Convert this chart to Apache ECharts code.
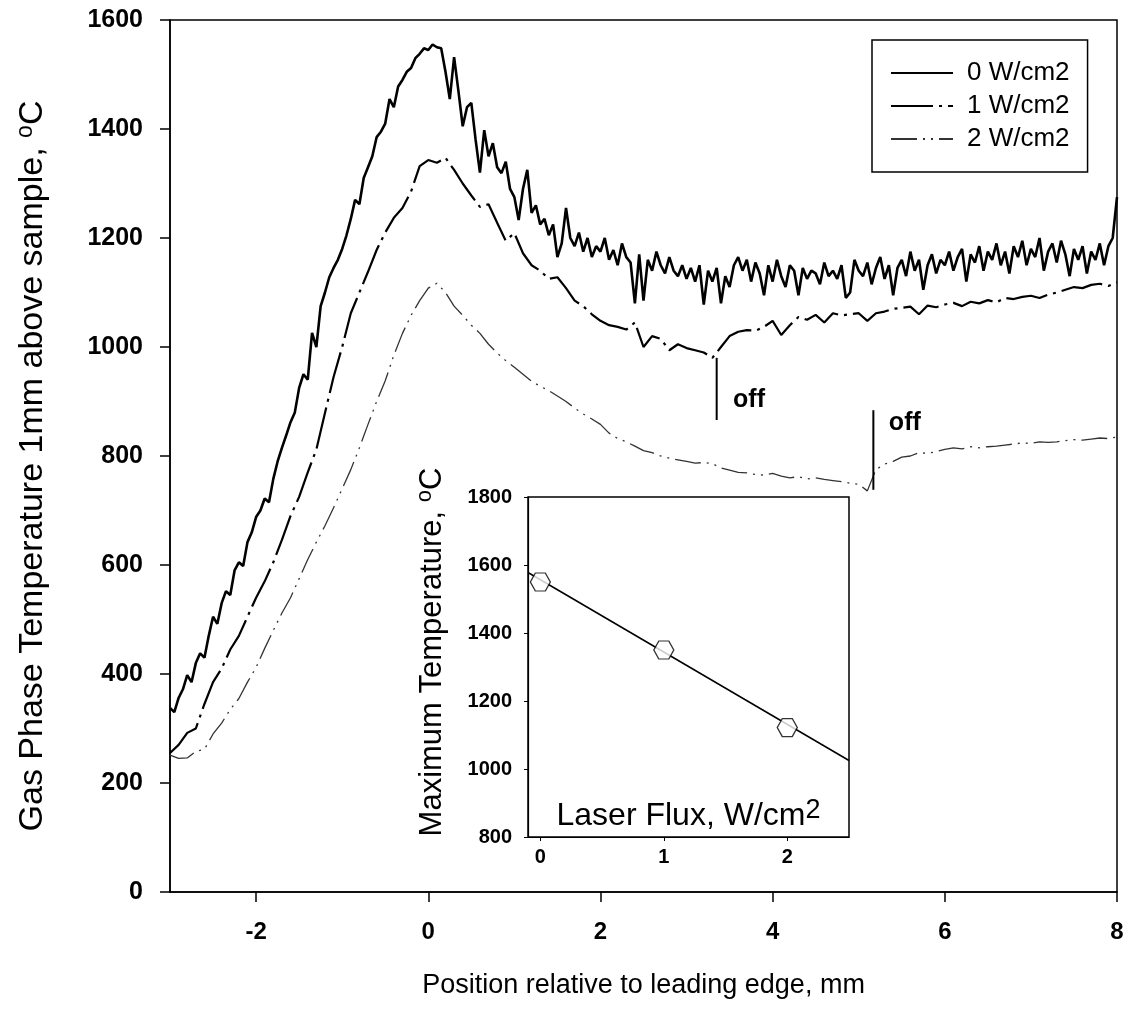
<!DOCTYPE html>
<html>
<head>
<meta charset="utf-8">
<script src="https://cdn.jsdelivr.net/npm/echarts@6/dist/echarts.min.js"></script>
<style>
html,body{margin:0;padding:0;background:#fff;}
#chart{width:1128px;height:1010px;}
</style>
</head>
<body>
<div id="chart"></div>
<script>
// ---- Data ----
const seriesNames = ['0 W/cm2', '1 W/cm2', '2 W/cm2'];
const xStart = -3;
const xStep0 = 0.05;   // sampling of 0 W/cm2 trace
const xStep12 = 0.1;   // sampling of 1 and 2 W/cm2 traces

const temp0 = [
  338,330,356,372,398,385,420,438,430,470,505,492,530,552,545,590,605,598,642,660,
  688,700,722,715,758,790,815,838,862,880,925,950,940,1026,1000,1075,1100,1128,1145,1160,
  1180,1205,1235,1270,1262,1310,1330,1350,1385,1395,1410,1455,1440,1478,1490,1505,1512,1530,1538,1548,
  1545,1555,1550,1548,1505,1455,1532,1470,1405,1440,1448,1380,1320,1398,1350,1374,1330,1319,1340,1290,
  1275,1233,1290,1325,1246,1260,1225,1235,1205,1225,1165,1190,1255,1200,1185,1210,1175,1200,1165,1185,
  1175,1200,1160,1178,1150,1190,1165,1155,1080,1170,1085,1160,1140,1175,1150,1135,1165,1140,1130,1150,
  1125,1145,1120,1150,1078,1140,1120,1145,1080,1130,1110,1150,1165,1140,1160,1120,1155,1135,1095,1150,
  1120,1160,1130,1110,1150,1140,1095,1145,1125,1140,1135,1115,1155,1130,1140,1125,1150,1090,1100,1160,
  1140,1130,1155,1115,1145,1165,1125,1150,1095,1145,1160,1130,1175,1140,1160,1105,1150,1170,1135,1160,
  1150,1175,1140,1165,1180,1120,1170,1155,1185,1140,1175,1160,1190,1150,1175,1135,1185,1165,1195,1150,
  1180,1165,1200,1140,1175,1190,1155,1195,1170,1130,1180,1160,1185,1135,1175,1160,1190,1150,1185,1200,
  1275
];
const temp1 = [
  255,270,292,300,345,385,410,445,470,505,
  540,570,605,646,690,725,770,812,879,945,
  1000,1062,1100,1138,1178,1210,1237,1255,1285,1332,
  1343,1338,1347,1325,1300,1278,1257,1262,1228,1195,
  1209,1172,1150,1140,1125,1128,1108,1085,1075,1060,
  1048,1040,1037,1032,1045,1000,1020,1015,994,1005,
  998,994,990,980,1000,1020,1028,1031,1030,1037,
  1048,1022,1040,1055,1050,1059,1045,1062,1058,1060,
  1062,1048,1062,1065,1070,1072,1074,1060,1076,1073,
  1078,1081,1075,1083,1080,1086,1082,1090,1088,1092,
  1094,1090,1096,1100,1105,1110,1108,1114,1116,1112,
  1119
];
const temp2 = [
  251,245,246,258,262,290,310,335,355,385,
  412,447,480,512,540,575,610,642,672,705,
  740,775,815,858,900,938,985,1025,1058,1085,
  1108,1117,1100,1075,1058,1040,1025,1005,989,975,
  963,950,937,928,920,910,900,888,877,868,
  858,842,832,826,818,810,806,800,796,793,
  790,787,788,786,778,774,770,769,766,765,
  768,763,760,762,758,760,757,755,753,750,
  748,736,775,785,790,798,800,806,805,808,
  812,815,813,817,815,817,818,820,822,824,
  823,826,825,826,828,830,829,831,833,832,
  835
];

// "off" markers: x position, top and bottom of tick (deg C), label anchor
const offX = [3.35, 5.17];
const offTop = [980, 884];
const offBottom = [866, 738];
const offLabelAt = [[3.54, 903], [5.35, 860]];
const offText = 'off';

// inset: max temperature vs laser flux
const fluxValues = [0, 1, 2];
const maxTemp = [1550, 1350, 1122];
const fitX = [-0.1, 2.5];
const fitY = [1578, 1025];

const mainXTicks = [-2, 0, 2, 4, 6, 8];
const insetXTicks = [0, 1, 2];

// ---- Build ----
function pairs(vals, start, step) {
  return vals.map((v, i) => [+(start + i * step).toFixed(2), v]);
}
const FONT = 'Liberation Sans, Arial, sans-serif';
const hexagon = 'path://M-1,0 L-0.5,-0.866 L0.5,-0.866 L1,0 L0.5,0.866 L-0.5,0.866 Z';
const plain = v => String(v);

const offSeries = offX.map((x, i) => ({
  type: 'line', xAxisIndex: 0, yAxisIndex: 0, silent: true,
  symbol: 'none', data: [[x, offTop[i]], [x, offBottom[i]]],
  lineStyle: { color: '#000', width: 2 }, z: 5
}));

const chart = echarts.init(document.getElementById('chart'), null, { renderer: 'canvas' });

const option = {
  backgroundColor: '#fff',
  animation: false,
  textStyle: { fontFamily: FONT },
  grid: [
    { left: 170, right: 11, top: 20, bottom: 118, show: true, borderColor: '#000', borderWidth: 1.5, backgroundColor: 'transparent' },
    { left: 528, right: 279, top: 497, bottom: 173, show: true, borderColor: '#000', borderWidth: 1.5, backgroundColor: '#fff', z: 10 }
  ],
  legend: {
    data: seriesNames,
    orient: 'vertical',
    left: 872, top: 40,
    padding: [20, 18, 20, 18],
    itemGap: 7,
    itemWidth: 62, itemHeight: 14,
    borderColor: '#000', borderWidth: 1.5,
    backgroundColor: '#fff',
    itemStyle: { opacity: 0 },
    textStyle: { fontSize: 26, color: '#000', fontFamily: FONT, padding: [0, 0, 0, 9] }
  },
  xAxis: [
    {
      gridIndex: 0, type: 'value', min: -3, max: 8,
      name: 'Position relative to leading edge, mm',
      nameLocation: 'middle', nameGap: 80,
      nameTextStyle: { fontSize: 27, color: '#000', fontFamily: FONT },
      axisLine: { onZero: false, lineStyle: { color: '#000', width: 1.5 } },
      axisTick: { show: true, length: 10, lineStyle: { color: '#000', width: 1.5 }, customValues: mainXTicks },
      axisLabel: { fontSize: 24, fontWeight: 'bold', color: '#000', margin: 28, customValues: mainXTicks, formatter: plain },
      splitLine: { show: false }
    },
    {
      gridIndex: 1, type: 'value', min: -0.1, max: 2.5, z: 15,
      name: 'Laser Flux, W/cm{sup|2}',
      nameLocation: 'middle', nameGap: -40,
      nameTextStyle: {
        fontSize: 32, color: '#000', fontFamily: FONT, lineHeight: 38,
        rich: { sup: { fontSize: 27, lineHeight: 27, verticalAlign: 'top', color: '#000', fontFamily: FONT } }
      },
      axisLine: { onZero: false, lineStyle: { color: '#000', width: 1.2 } },
      axisTick: { show: true, length: 4, lineStyle: { color: '#000' }, customValues: insetXTicks },
      axisLabel: { fontSize: 20, fontWeight: 'bold', color: '#000', margin: 10, customValues: insetXTicks, formatter: plain },
      splitLine: { show: false }
    }
  ],
  yAxis: [
    {
      gridIndex: 0, type: 'value', min: 0, max: 1600, interval: 200,
      name: 'Gas Phase Temperature 1mm above sample, {sup|o}C',
      nameLocation: 'middle', nameGap: 118,
      nameTextStyle: {
        fontSize: 34, color: '#000', fontFamily: FONT, lineHeight: 38, padding: [0, 20, 0, 0],
        rich: { sup: { fontSize: 23, lineHeight: 23, verticalAlign: 'top', color: '#000', fontFamily: FONT } }
      },
      axisLine: { onZero: false, lineStyle: { color: '#000', width: 1.5 } },
      axisTick: { show: true, length: 10, lineStyle: { color: '#000', width: 1.5 } },
      axisLabel: { fontSize: 25, fontWeight: 'bold', color: '#000', margin: 27, formatter: plain },
      splitLine: { show: false }
    },
    {
      gridIndex: 1, type: 'value', min: 800, max: 1800, interval: 200, z: 15,
      name: 'Maximum Temperature, {sup|o}C',
      nameLocation: 'middle', nameGap: 78,
      nameTextStyle: {
        fontSize: 31, color: '#000', fontFamily: FONT, lineHeight: 36, padding: [0, 0, 0, 30],
        rich: { sup: { fontSize: 22, lineHeight: 22, verticalAlign: 'top', color: '#000', fontFamily: FONT } }
      },
      axisLine: { onZero: false, lineStyle: { color: '#000', width: 1.2 } },
      axisTick: { show: true, length: 4, lineStyle: { color: '#000' } },
      axisLabel: { fontSize: 20, fontWeight: 'bold', color: '#000', margin: 16, formatter: plain },
      splitLine: { show: false }
    }
  ],
  series: [
    {
      name: seriesNames[0], type: 'line', xAxisIndex: 0, yAxisIndex: 0,
      data: pairs(temp0, xStart, xStep0), symbol: 'none', silent: true,
      lineStyle: { color: '#000', width: 2.6 }, itemStyle: { color: '#000' }
    },
    {
      name: seriesNames[1], type: 'line', xAxisIndex: 0, yAxisIndex: 0,
      data: pairs(temp1, xStart, xStep12), symbol: 'none', silent: true,
      lineStyle: { color: '#000', width: 2.2, type: [42, 6, 3, 6] }, itemStyle: { color: '#000' }
    },
    {
      name: seriesNames[2], type: 'line', xAxisIndex: 0, yAxisIndex: 0,
      data: pairs(temp2, xStart, xStep12), symbol: 'none', silent: true,
      lineStyle: { color: '#333', width: 1.3, type: [26, 6, 2, 6, 2, 6] }, itemStyle: { color: '#333' }
    },
    ...offSeries,
    {
      type: 'line', xAxisIndex: 1, yAxisIndex: 1, silent: true, symbol: 'none', z: 11,
      data: fitX.map((x, i) => [x, fitY[i]]),
      lineStyle: { color: '#000', width: 1.5 }
    },
    {
      type: 'scatter', xAxisIndex: 1, yAxisIndex: 1, silent: true, z: 12,
      symbol: hexagon, symbolSize: [20, 18],
      data: fluxValues.map((x, i) => [x, maxTemp[i]]),
      itemStyle: { color: '#fff', borderColor: '#000', borderWidth: 1.3 }
    }
  ]
};
chart.setOption(option);

// "off" labels placed through the axis scale
const offGraphics = offLabelAt.map(p => {
  const px = chart.convertToPixel({ xAxisIndex: 0, yAxisIndex: 0 }, p);
  return {
    type: 'text', x: px[0], y: px[1], z: 20,
    style: { text: offText, font: 'bold 25px ' + FONT, fill: '#000', verticalAlign: 'middle', align: 'left' }
  };
});
chart.setOption({ graphic: offGraphics });
</script>
</body>
</html>
